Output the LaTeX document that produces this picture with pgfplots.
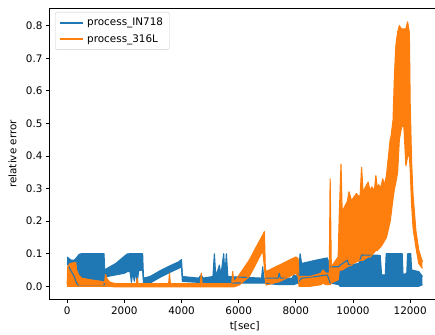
\documentclass[border=0pt]{standalone}
\usepackage{fontspec}
\setmainfont{DejaVu Sans}
\usepackage{pgfplots}
\pgfplotsset{compat=1.18}
\usepackage{pgfplotstable}
\usepgfplotslibrary{fillbetween}
\definecolor{c1}{HTML}{1F77B4}
\definecolor{c2}{HTML}{FF7F0E}
\definecolor{legframe}{RGB}{204,204,204}

% process_IN718 : envelope (low / high) of the signal
\pgfplotstableread{
t lo hi
0 0.070 0.090
60 0.060 0.085
150 0.045 0.080
250 0.030 0.080
330 0.010 0.088
420 0.000 0.098
500 0.000 0.100
1290 0.000 0.100
1310 0.030 0.050
1400 0.030 0.055
1700 0.035 0.070
2000 0.040 0.092
2100 0.045 0.099
2200 0.045 0.100
2250 0.012 0.100
2290 0.045 0.100
2350 0.015 0.100
2390 0.047 0.100
2450 0.010 0.100
2500 0.048 0.100
2640 0.050 0.100
2670 0.010 0.025
2900 0.010 0.030
3100 0.020 0.040
3300 0.030 0.050
3650 0.045 0.065
3900 0.055 0.075
4000 0.060 0.082
4030 0.015 0.030
4600 0.012 0.025
4690 0.012 0.035
4750 0.012 0.025
5100 0.012 0.030
5150 0.012 0.100
5200 0.012 0.030
5325 0.012 0.065
5380 0.012 0.035
5475 0.012 0.100
5520 0.012 0.035
5570 0.012 0.100
5620 0.010 0.030
6800 0.010 0.025
6840 0.010 0.060
6880 0.010 0.025
7380 0.005 0.025
7420 0.005 0.040
7460 0.005 0.025
7880 0.005 0.025
7920 0.005 0.035
8080 0.010 0.030
8150 0.020 0.100
8200 0.025 0.070
8700 0.030 0.080
9100 0.035 0.087
9200 0.010 0.060
9500 0.005 0.060
9550 0.000 0.065
9800 0.000 0.080
9850 0.000 0.065
10200 0.000 0.070
10300 0.000 0.096
10950 0.000 0.095
11000 0.000 0.035
11130 0.000 0.035
11160 0.000 0.100
11720 0.000 0.100
11750 0.000 0.035
11880 0.000 0.040
11910 0.000 0.100
12020 0.000 0.100
12050 0.000 0.050
12300 0.000 0.045
12430 0.005 0.030
}\bluedata

% process_316L : envelope (low / high) of the signal
\pgfplotstableread{
t lo hi
0 0.000 0.005
20 0.000 0.060
100 0.000 0.070
300 0.000 0.073
330 0.000 0.050
400 0.000 0.035
500 0.000 0.025
800 0.000 0.020
1200 0.000 0.015
1310 0.000 0.012
1340 0.000 0.036
1400 0.000 0.022
1500 0.000 0.012
1700 -0.002 0.008
2420 -0.002 0.008
2450 -0.002 0.025
2480 -0.002 0.008
3550 -0.002 0.008
3580 -0.002 0.040
3610 -0.002 0.008
4660 -0.002 0.008
4690 -0.002 0.040
4720 -0.002 0.008
5760 -0.002 0.008
5790 -0.002 0.045
5830 -0.002 0.012
6020 0.004 0.035
6370 0.030 0.080
6610 0.070 0.120
6840 0.110 0.157
6900 0.060 0.168
6930 0.020 0.060
6960 0.004 0.045
7420 0.014 0.065
8000 0.040 0.090
8080 0.030 0.085
8110 0.000 0.030
8500 0.000 0.030
8880 0.005 0.040
8950 0.010 0.050
9050 0.005 0.040
9170 0.005 0.040
9200 0.005 0.330
9240 0.010 0.060
9480 0.020 0.090
9520 0.050 0.220
9580 0.050 0.375
9620 0.050 0.230
9800 0.060 0.260
9860 0.062 0.290
9950 0.065 0.262
10000 0.070 0.270
10120 0.075 0.285
10200 0.078 0.275
10250 0.080 0.280
10300 0.080 0.365
10350 0.080 0.290
10530 0.090 0.320
10600 0.090 0.290
10650 0.095 0.305
10750 0.105 0.295
10800 0.110 0.340
10850 0.110 0.300
10900 0.115 0.312
10960 0.120 0.300
11040 0.130 0.330
11100 0.140 0.310
11170 0.150 0.340
11300 0.200 0.450
11330 0.220 0.460
11400 0.270 0.510
11450 0.300 0.650
11500 0.320 0.740
11560 0.350 0.780
11620 0.450 0.800
11700 0.490 0.790
11780 0.490 0.790
11850 0.370 0.790
11910 0.400 0.812
11970 0.400 0.780
12000 0.360 0.560
12050 0.250 0.380
12100 0.180 0.280
12200 0.120 0.170
12300 0.070 0.110
12430 0.055 0.075
}\orangedata

\pgfplotsset{
  common/.style={
    at={(49.3bp,35.5bp)}, anchor=south west,
    scale only axis, width=390.9bp, height=291.2bp,
    xmin=-625, xmax=13050, ymin=-0.0406, ymax=0.8535,
  },
  band/.style={line width=1.1bp, line join=round, forget plot},
}

\begin{document}
\begin{tikzpicture}
\begin{axis}[
  common,
  xtick={0,2000,4000,6000,8000,10000,12000},
  ytick={0,0.1,0.2,0.3,0.4,0.5,0.6,0.7,0.8},
  scaled x ticks=false, scaled y ticks=false,
  tick align=outside, xtick pos=left, ytick pos=left,
  major tick length=3.3bp,
  tick style={black, line width=0.76bp},
  axis line style={black, line width=0.76bp},
  /pgf/number format/assume math mode=true,
  /pgf/number format/1000 sep={},
  yticklabel style={/pgf/number format/.cd, fixed, fixed zerofill, precision=1},
  tick label style={font=\fontsize{10.4bp}{12bp}\selectfont},
  every axis x label/.style={at={(axis description cs:0.5,0)}, yshift=-27.2bp, anchor=center},
  every axis y label/.style={at={(axis description cs:0,0.5)}, xshift=-36.8bp, rotate=90, anchor=center},
  label style={font=\fontsize{10.4bp}{12bp}\selectfont},
  xlabel={t[sec]}, ylabel={relative error},
]
\addplot[name path=bl, c1, band] table[x=t, y=lo] {\bluedata};
\addplot[name path=bh, c1, band] table[x=t, y=hi] {\bluedata};
\addplot[c1, forget plot] fill between[of=bl and bh];
\end{axis}
\begin{axis}[common, hide axis]
\addplot[name path=ol, c2, band] table[x=t, y=lo] {\orangedata};
\addplot[name path=oh, c2, band] table[x=t, y=hi] {\orangedata};
\addplot[c2, forget plot] fill between[of=ol and oh];
\end{axis}
\begin{axis}[
  common, hide axis,
  legend cell align=left,
  legend image code/.code={\fill[#1, fill opacity=1, draw=none, rounded corners=0pt] (0bp,-1bp) rectangle (23bp,1bp);},
  legend style={at={(0,1)}, anchor=north west, xshift=5.7bp, yshift=-3.7bp,
    draw=legframe, rounded corners=2.5bp, fill=white,
    fill opacity=0.8, text opacity=1, row sep=3bp, column sep=2.5bp,
    inner xsep=4.5bp, inner ysep=4bp,
    font=\fontsize{10.4bp}{12bp}\selectfont},
]
\addlegendimage{fill=c1}
\addlegendentry{process\_IN718}
\addlegendimage{fill=c2}
\addlegendentry{process\_316L}
\end{axis}
\pgfresetboundingbox
\useasboundingbox (0,0) rectangle (435bp,335bp);
\end{tikzpicture}
\end{document}
